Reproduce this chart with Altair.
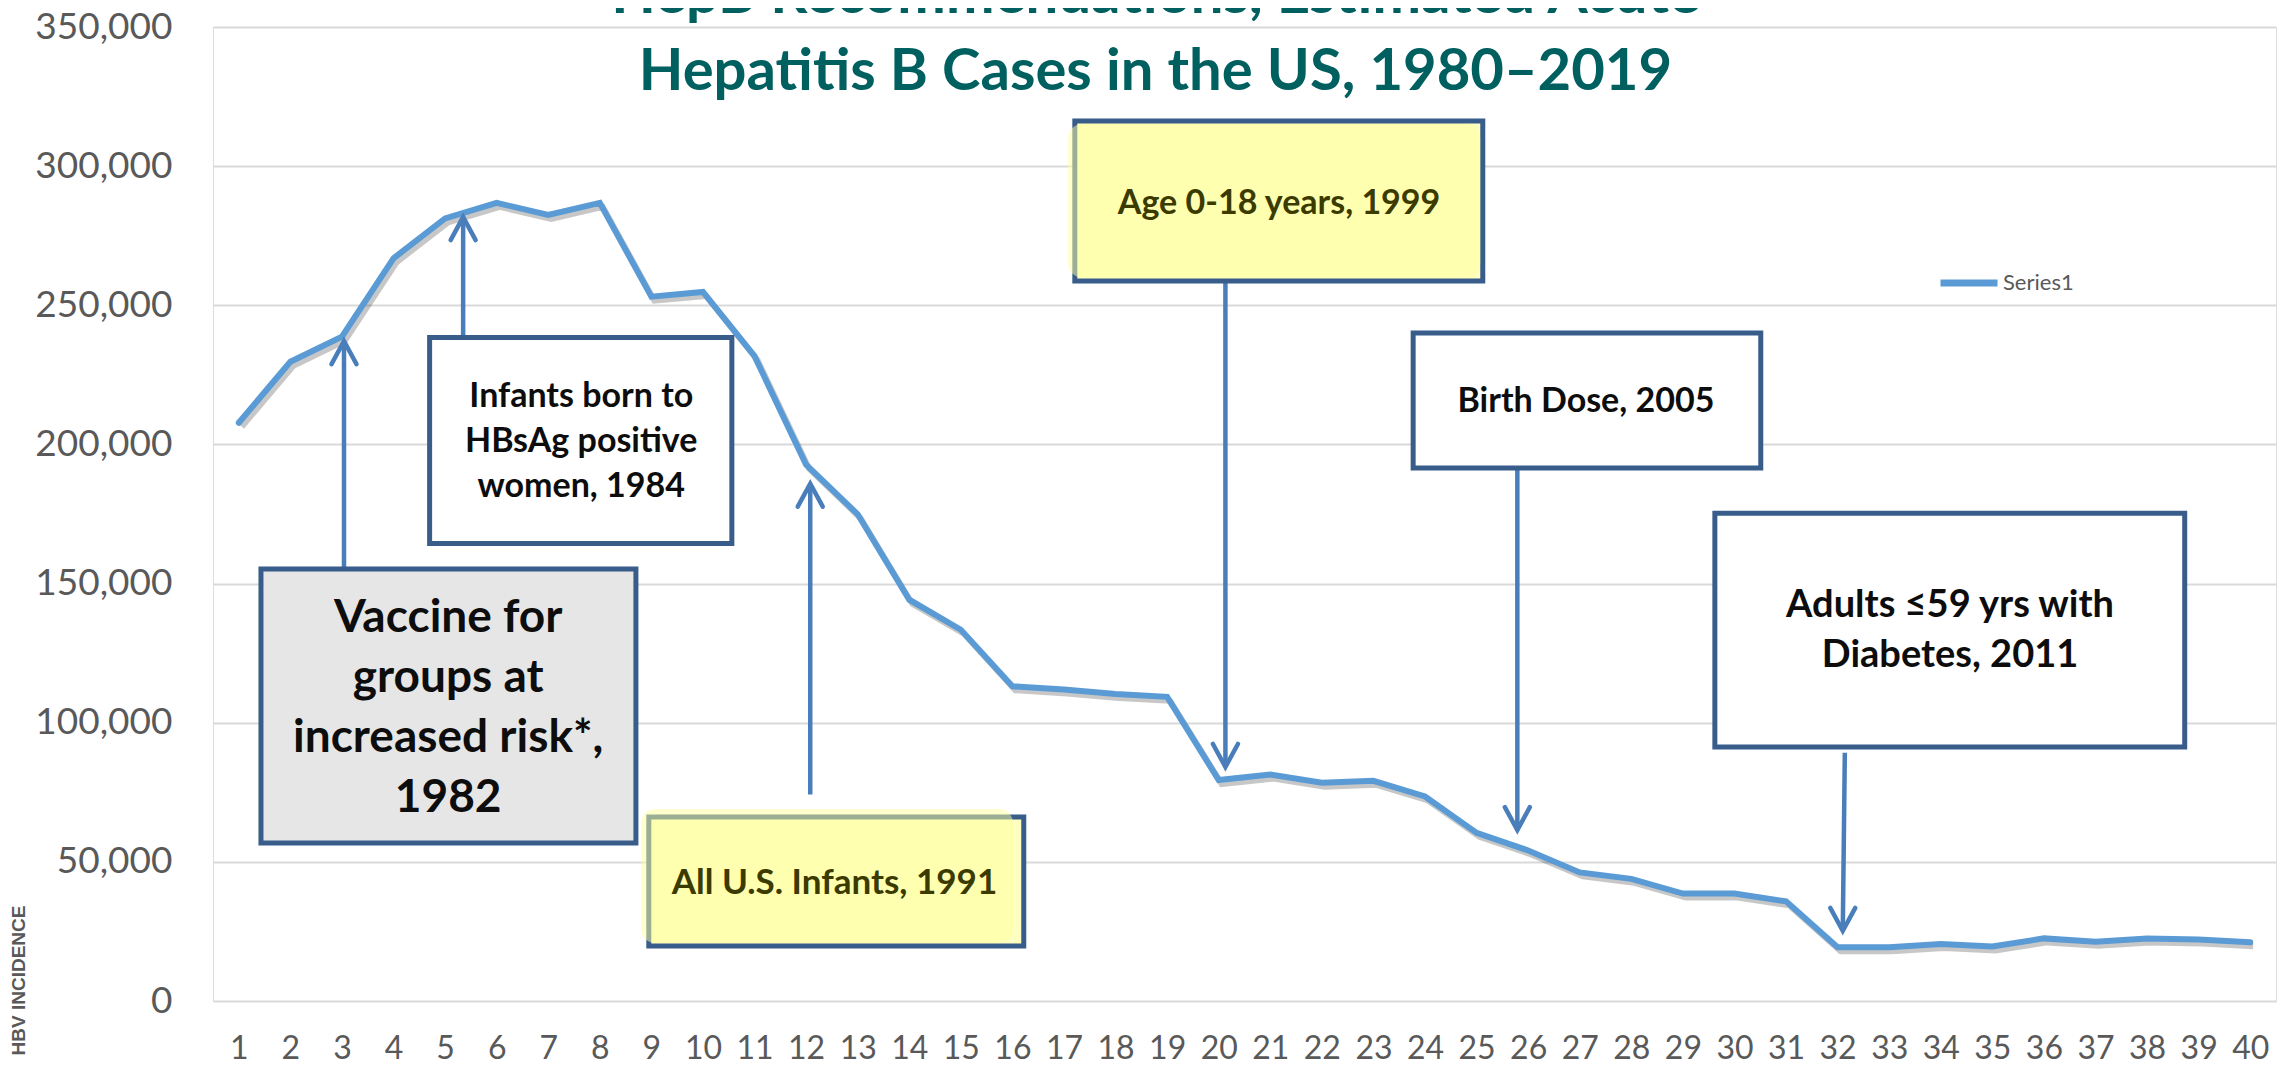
import altair as alt
import pandas as pd

# ---------------- data ----------------
periods = list(range(1, 41))
cases = [207800, 229700, 238700, 266900, 281200, 286800, 282500, 286800, 253100, 254800,
         231700, 192700, 174900, 144200, 133400, 113100, 111900, 110300, 109300, 79400,
         81400, 78400, 79100, 73500, 60400, 54100, 46200, 43900, 38600, 38600,
         35800, 19300, 19300, 20500, 19600, 22500, 21300, 22500, 22100, 21100]
series = ["Series1"] * len(periods)

# annotation boxes in data units (period axis, cases axis)
box_ids = ["a", "b", "c", "d", "e", "f"]
box_text = ["Vaccine for\ngroups at\nincreased risk*,\n1982",
            "Infants born to\nHBsAg positive\nwomen, 1984",
            "All U.S. Infants, 1991",
            "Age 0-18 years, 1999",
            "Birth Dose, 2005",
            "Adults \u226459 yrs with\nDiabetes, 2011"]
box_left = [1.43, 4.70, 8.95, 17.21, 23.77, 29.62]
box_right = [8.70, 10.56, 16.22, 25.12, 30.51, 38.73]
box_top = [155200, 238400, 66100, 316200, 240000, 175300]
box_bottom = [56800, 164400, 19800, 258700, 191500, 91300]
# anchor of the first text line of each box
text_x = [5.06, 7.64, 12.55, 21.17, 27.12, 34.18]
text_y = [137600, 217100, 42300, 286400, 215400, 141900]

# soft yellow highlight over the two yellow boxes
glow_left = [8.80, 17.08]
glow_right = [16.01, 25.07]
glow_top = [69000, 315100]
glow_bottom = [20800, 260000]

# arrows (start at box edge, end at tip near the curve)
arrow_x = [3.04, 5.35, 12.08, 20.13, 25.79, 32.14]
arrow_x_tip = [3.04, 5.35, 12.08, 20.13, 25.79, 32.10]
arrow_from = [155200, 238400, 74200, 258700, 191500, 89200]
arrow_tip = [237100, 281700, 185900, 84100, 61400, 25200]

y_ticks = list(range(0, 350001, 50000))

# ---------------- styles ----------------
BOX_FILL = {"a": "#e6e6e6", "b": "#ffffff", "c": "#ffffc2", "d": "#ffffc2", "e": "#ffffff", "f": "#ffffff"}
TEXT_STYLE = {  # font size, line height, colour
    "a": (46, 60, "#0d0d0d"),
    "b": (34, 45, "#0d0d0d"),
    "c": (35, 40, "#3b3b00"),
    "d": (34, 40, "#3b3b00"),
    "e": (34, 40, "#0d0d0d"),
    "f": (38, 50, "#0d0d0d"),
}
UP = "M -1 1.84 L 0 0 L 1 1.84"
DOWN = "M -1 -1.84 L 0 0 L 1 -1.84"
FONT = "Lato"

line_df = pd.DataFrame({"x": periods, "y": cases, "series": series})
box_df = pd.DataFrame({"id": box_ids, "x": box_left, "x2": box_right, "y": box_top, "y2": box_bottom,
                       "fill": [BOX_FILL[i] for i in box_ids]})
glow_df = pd.DataFrame({"x": glow_left, "x2": glow_right, "y": glow_top, "y2": glow_bottom})
txt_df = pd.DataFrame({"id": box_ids, "x": text_x, "y": text_y, "label": box_text})
arr_df = pd.DataFrame({"x": arrow_x, "x2": arrow_x_tip, "y": arrow_from, "y2": arrow_tip})
arr_df["head"] = [UP if t > f else DOWN for f, t in zip(arrow_from, arrow_tip)]

xs = alt.Scale(domain=[0.5, 40.5], nice=False, zero=False)
ys = alt.Scale(domain=[0, 350000], nice=False)
x_axis = alt.Axis(values=periods, format="d", grid=False, domain=False, ticks=False, tickSize=0,
                  labelFont=FONT, labelFontSize=32, labelColor="#595959", labelPadding=57,
                  labelBaseline="alphabetic", labelOverlap=False, labelFlush=False)
y_axis = alt.Axis(values=y_ticks, labelExpr="format(datum.value, ',.0f')", grid=True,
                  gridColor="#d9d9d9", gridWidth=2,
                  domain=False, ticks=False, tickSize=0, labelFont=FONT, labelFontSize=37,
                  labelColor="#595959", labelPadding=41, labelBaseline="middle",
                  titleFont="Liberation Sans", titleFontSize=19, titleFontWeight="bold",
                  titleColor="#595959", titleX=-195, titleY=953, titleAngle=270,
                  titleAlign="center", titleBaseline="middle")

X = lambda f="x": alt.X(f"{f}:Q", scale=xs, axis=x_axis, title=None)
Y = lambda f="y": alt.Y(f"{f}:Q", scale=ys, axis=y_axis, title="HBV INCIDENCE")

shadow = alt.Chart(line_df).mark_line(color="#000000", opacity=0.22, strokeWidth=6,
                                      xOffset=3, yOffset=4).encode(x=X(), y=Y())
line = alt.Chart(line_df).mark_line(strokeWidth=6, strokeCap="round").encode(
    x=X(), y=Y(),
    color=alt.Color("series:N", scale=alt.Scale(domain=["Series1"], range=["#5b9bd5"]),
                    legend=alt.Legend(title=None, orient="none", legendX=1724, legendY=224,
                                      symbolType="stroke", symbolSize=3249, symbolStrokeWidth=7,
                                      labelFont=FONT, labelFontSize=22, labelColor="#595959",
                                      labelOffset=2, padding=0)))
shafts = alt.Chart(arr_df).mark_rule(color="#4a7ebb", strokeWidth=4.5).encode(
    x=X(), x2="x2:Q", y=Y(), y2="y2:Q")
heads = alt.Chart(arr_df).mark_point(filled=False, color="#4a7ebb", strokeWidth=4.5, size=625,
                                     opacity=1, strokeCap="round").encode(
    x=X("x2"), y=Y("y2"), shape=alt.Shape("head:N", scale=None))
boxes = alt.Chart(box_df).mark_rect(stroke="#385d8a", strokeWidth=5).encode(
    x=X(), x2="x2:Q", y=Y(), y2="y2:Q", fill=alt.Fill("fill:N", scale=None))
glow = alt.Chart(glow_df).mark_rect(fill="#ffff9e", opacity=0.5, cornerRadius=14).encode(
    x=X(), x2="x2:Q", y=Y(), y2="y2:Q")

texts = []
for bid in box_ids:
    fs, lh, col = TEXT_STYLE[bid]
    texts.append(alt.Chart(txt_df).transform_filter(alt.datum.id == bid).mark_text(
        font=FONT, fontWeight="bold", fontSize=fs, lineHeight=lh, color=col,
        lineBreak="\n", align="center", baseline="middle").encode(x=X(), y=Y(), text="label:N"))

chart = alt.layer(shadow, line, shafts, heads, boxes, glow, *texts).properties(
    width=2063, height=974,
    autosize=alt.AutoSizeParams(type="none"),
    padding={"left": 205, "top": 19, "right": 2, "bottom": 65},
    title=alt.Title(["HepB Recommendations, Estimated Acute", "Hepatitis B Cases in the US, 1980\u20132019"],
                    font=FONT, fontSize=58, fontWeight="bold", color="#005f5f", anchor="middle",
                    frame="group", dx=-89, dy=94, lineHeight=77, offset=0),
).configure_view(stroke=None).configure(background="white")

chart.save("out.html", embed_options={"renderer": "svg", "actions": False})
